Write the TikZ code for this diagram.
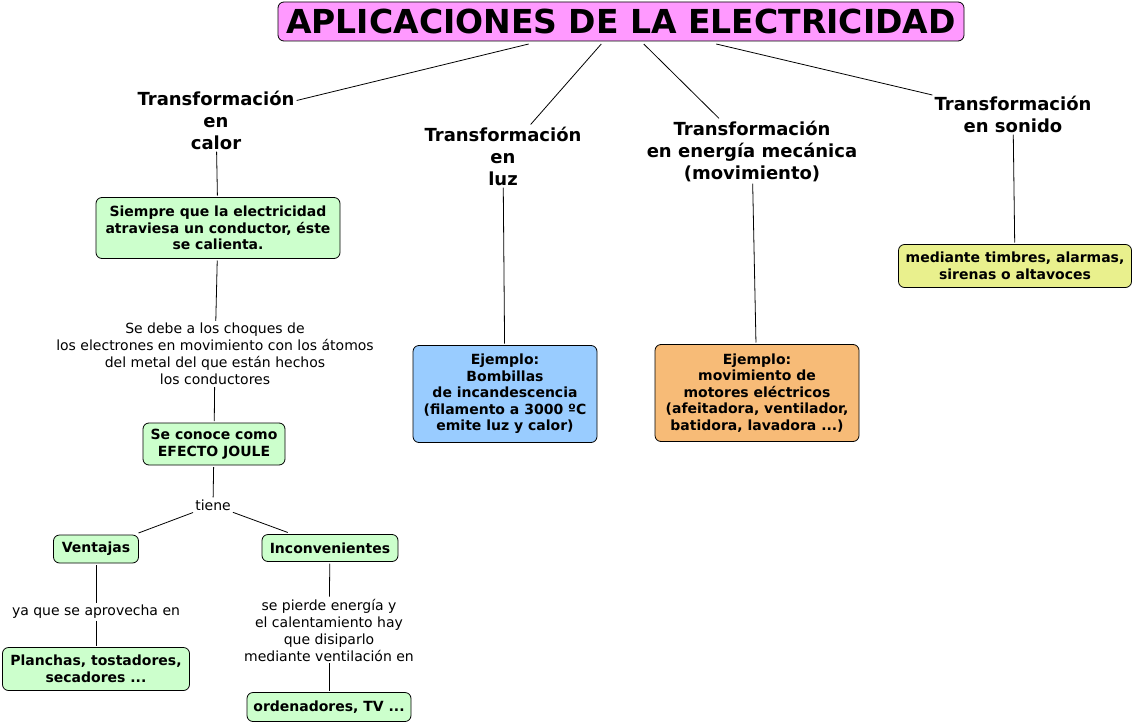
\documentclass[tikz,border=0pt]{standalone}
\usepackage{fontspec}
\setmainfont{DejaVu Sans}
\definecolor{rosa}{HTML}{FF99FF}
\definecolor{verde}{HTML}{CCFFCC}
\definecolor{azul}{HTML}{99CCFF}
\definecolor{naranja}{HTML}{F7BB77}
\definecolor{amarillo}{HTML}{E9F08D}
\begin{document}
\begin{tikzpicture}[x=1pt,y=-1pt,
    caja/.style={draw,rounded corners=6pt,align=center,line width=0.8pt,
      font=\bfseries\fontsize{14}{16.5}\selectfont,inner sep=2pt,outer sep=2pt},
    rama/.style={align=center,font=\bfseries\fontsize{18}{22}\selectfont,inner sep=2pt},
    enlace/.style={align=center,font=\fontsize{14}{17}\selectfont,inner sep=2pt},
    linea/.style={line width=0.8pt}]
  \useasboundingbox (0,0) rectangle (1134,725);
  \node[caja,fill=rosa,font=\bfseries\fontsize{33}{36}\selectfont,minimum width=686pt,minimum height=39pt,outer sep=3pt] (titulo) at (621,21.5) {APLICACIONES DE LA ELECTRICIDAD};

  \node[rama] (calor) at (216,120) {Transformación\\en\\calor};
  \node[rama] (luz) at (503,156) {Transformación\\en\\luz};
  \node[rama] (mecanica) at (752,151) {Transformación\\en energía mecánica\\(movimiento)};
  \node[rama] (sonido) at (1013,114) {Transformación\\en sonido};

  \node[caja,fill=verde,minimum width=244pt,minimum height=61pt] (calorcaja) at (218,228) {Siempre que la electricidad\\atraviesa un conductor, éste\\se calienta.};
  \node[enlace] (choques) at (215,354) {Se debe a los choques de\\los electrones en movimiento con los átomos\\del metal del que están hechos\\los conductores};
  \node[caja,fill=verde,minimum width=142pt,minimum height=42pt] (joule) at (214,444) {Se conoce como\\EFECTO JOULE};
  \node[enlace] (tiene) at (213,505) {tiene};
  \node[caja,fill=verde,minimum width=85pt,minimum height=28pt] (ventajas) at (96,549) {Ventajas};
  \node[caja,fill=verde,minimum width=136pt,minimum height=27pt] (inconv) at (330,548) {Inconvenientes};
  \node[enlace] (aprovecha) at (96,612) {ya que se aprovecha en};
  \node[caja,fill=verde,minimum width=187pt,minimum height=43pt] (planchas) at (96,669) {Planchas, tostadores,\\secadores ...};
  \node[enlace] (disipar) at (329,630) {se pierde energía y\\el calentamiento hay\\que disiparlo\\mediante ventilación en};
  \node[caja,fill=verde,minimum width=164pt,minimum height=29pt] (ordenadores) at (329,707) {ordenadores, TV ...};

  \node[caja,fill=azul,minimum width=184pt,minimum height=97pt] (bombillas) at (505,394) {Ejemplo:\\Bombillas\\de incandescencia\\(filamento a 3000 ºC\\emite luz y calor)};
  \node[caja,fill=naranja,minimum width=204pt,minimum height=97pt] (motores) at (757,393) {Ejemplo:\\movimiento de\\motores eléctricos\\(afeitadora, ventilador,\\batidora, lavadora ...)};
  \node[caja,fill=amarillo,minimum width=233pt,minimum height=43pt] (timbres) at (1015,266) {mediante timbres, alarmas,\\sirenas o altavoces};

  \draw[linea] (titulo) -- (calor);
  \draw[linea] (titulo) -- (luz);
  \draw[linea] (titulo) -- (mecanica);
  \draw[linea] (titulo) -- (sonido);
  \draw[linea] (calor) -- (calorcaja);
  \draw[linea] (calorcaja) -- (choques);
  \draw[linea] (choques) -- (joule);
  \draw[linea] (joule) -- (tiene);
  \draw[linea] (tiene) -- (ventajas);
  \draw[linea] (tiene) -- (inconv);
  \draw[linea] (ventajas) -- (aprovecha);
  \draw[linea] (aprovecha) -- (planchas);
  \draw[linea] (inconv) -- (disipar);
  \draw[linea] (disipar) -- (ordenadores);
  \draw[linea] (luz) -- (bombillas);
  \draw[linea] (mecanica) -- (motores);
  \draw[linea] (sonido) -- (timbres);
\end{tikzpicture}
\end{document}
